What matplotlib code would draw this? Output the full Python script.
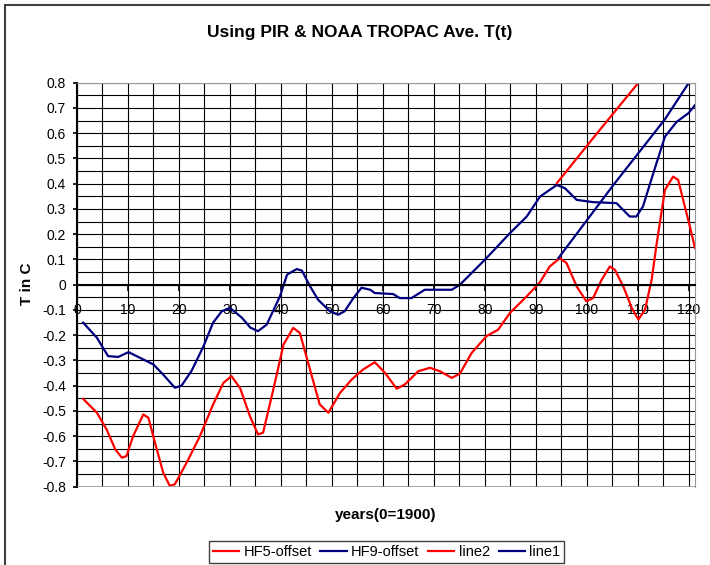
import matplotlib.pyplot as plt
from matplotlib.patches import Rectangle
from matplotlib.ticker import MultipleLocator, FuncFormatter

plt.rcParams['font.family'] = ['Liberation Sans', 'DejaVu Sans']

# HF5-offset (red, wiggly)
hf5_x = [1.2, 3.9, 5.8, 7.5, 8.8, 9.7, 11.0, 13.0, 14.0, 15.3,
         16.9, 18.2, 19.2, 21.5, 24.1, 26.7, 28.7, 30.3, 32.0, 33.9,
         35.5, 36.5, 38.5, 40.5, 42.4, 43.7, 45.7, 47.6, 49.3, 51.6,
         53.9, 56.1, 58.4, 60.4, 62.7, 64.3, 66.9, 69.2, 71.2, 73.5,
         75.1, 77.4, 80.3, 82.6, 84.9, 88.2, 90.8, 92.7, 94.7, 96.0,
         98.0, 99.9, 101.2, 102.9, 104.5, 105.5, 107.2, 108.8, 110.1, 111.4,
         112.7, 113.7, 115.3, 116.9, 117.9, 119.2, 120.2, 121.2]
hf5_y = [-0.452, -0.507, -0.573, -0.652, -0.685, -0.679, -0.60, -0.514, -0.527, -0.626,
         -0.744, -0.797, -0.79, -0.705, -0.60, -0.474, -0.389, -0.362, -0.41, -0.52,
         -0.593, -0.586, -0.415, -0.237, -0.171, -0.191, -0.336, -0.474, -0.507, -0.428,
         -0.375, -0.336, -0.307, -0.349, -0.412, -0.395, -0.343, -0.329, -0.343, -0.369,
         -0.352, -0.27, -0.204, -0.178, -0.112, -0.046, 0.01, 0.072, 0.105, 0.086,
         -0.007, -0.066, -0.053, 0.02, 0.072, 0.059, -0.01, -0.092, -0.138, -0.099,
         0.02, 0.165, 0.375, 0.428, 0.415, 0.31, 0.23, 0.145]

# HF9-offset (blue, wiggly)
hf9_x = [1.2, 3.9, 6.1, 8.1, 10.1, 12.4, 15.0, 16.9, 19.2, 20.5,
         22.5, 24.8, 26.7, 28.4, 30.0, 32.3, 34.0, 35.5, 37.2, 39.8,
         41.2, 43.1, 44.1, 45.7, 47.3, 49.6, 51.2, 52.5, 54.2, 55.8,
         57.5, 58.4, 62.0, 63.3, 65.6, 68.2, 73.5, 75.1, 80.0, 84.9,
         88.2, 90.8, 94.1, 95.7, 98.0, 101.2, 105.8, 108.4, 109.7, 111.0,
         113.0, 115.3, 117.6, 119.9, 121.2]
hf9_y = [-0.15, -0.21, -0.283, -0.286, -0.267, -0.29, -0.316, -0.356, -0.408, -0.40,
         -0.34, -0.244, -0.15, -0.105, -0.092, -0.13, -0.17, -0.184, -0.158, -0.046,
         0.04, 0.062, 0.056, -0.006, -0.06, -0.105, -0.119, -0.105, -0.053, -0.012,
         -0.020, -0.033, -0.037, -0.053, -0.053, -0.02, -0.02, 0.0, 0.099, 0.204,
         0.27, 0.349, 0.395, 0.382, 0.336, 0.327, 0.323, 0.27, 0.27, 0.31,
         0.44, 0.586, 0.645, 0.679, 0.711]

# trend lines
line2_x = [94.1, 102.0, 110.1]
line2_y = [0.402, 0.60, 0.80]
line1_x = [94.4, 105.2, 115.3, 119.9]
line1_y = [0.105, 0.395, 0.655, 0.797]

red = '#FF0000'
navy = '#000080'

fig = plt.figure(figsize=(7.1, 5.65), dpi=100)
ax = fig.add_axes([77/710, 1 - 486.7/565, (695 - 77)/710, (486.7 - 82.7)/565])

ax.plot(hf5_x, hf5_y, color=red, lw=1.6, label='HF5-offset')
ax.plot(hf9_x, hf9_y, color=navy, lw=1.6, label='HF9-offset')
ax.plot(line2_x, line2_y, color=red, lw=1.6, label='line2')
ax.plot(line1_x, line1_y, color=navy, lw=1.6, label='line1')

ax.set_xlim(0, 121.2)
ax.set_ylim(-0.8, 0.8)
ax.xaxis.set_major_locator(MultipleLocator(10))
ax.xaxis.set_minor_locator(MultipleLocator(5))
ax.yaxis.set_major_locator(MultipleLocator(0.1))
ax.yaxis.set_minor_locator(MultipleLocator(0.05))
# Excel style: plain "0" at zero, one decimal elsewhere
ax.yaxis.set_major_formatter(FuncFormatter(lambda v, p: '0' if abs(v) < 1e-9 else f'{v:.1f}'))
ax.grid(which='both', color='black', lw=0.8)
ax.set_axisbelow(True)

ax.spines['bottom'].set_position(('data', 0))
ax.spines['bottom'].set_linewidth(1.5)
ax.spines['left'].set_linewidth(1.5)
for s in ['top', 'right']:
    ax.spines[s].set_color('#999999')
ax.axhline(-0.8, color='#999999', lw=1.2, zorder=3)

ax.tick_params(which='minor', length=0)
ax.tick_params(axis='x', length=4, width=1.2, pad=9, labelsize=10)
ax.tick_params(axis='y', length=3, width=1.2, pad=5, labelsize=10)

fig.text(360/710, 1 - 32/565, 'Using PIR & NOAA TROPAC Ave. T(t)', ha='center', va='center',
         fontsize=12.5, fontweight='bold')
fig.text(386/710, 1 - 515/565, 'years(0=1900)', ha='center', va='center', fontsize=11, fontweight='bold')
fig.text(27/710, 1 - 284/565, 'T in C', ha='center', va='center', rotation=90, fontsize=11, fontweight='bold')

leg = fig.legend(loc='center', bbox_to_anchor=(386.5/710, 1 - 552/565), ncol=4, fontsize=10.5,
                 handlelength=1.8, handletextpad=0.3, columnspacing=0.6, borderpad=0.25,
                 fancybox=False, framealpha=1, edgecolor='#404040')
leg.get_frame().set_linewidth(1.0)

# outer chart border
fig.add_artist(Rectangle((5/710, -0.5), 2, 0.5 + 1 - 5/565, transform=fig.transFigure,
                         fill=False, ec='#404040', lw=1.5))

plt.savefig('out.png', dpi=100)
